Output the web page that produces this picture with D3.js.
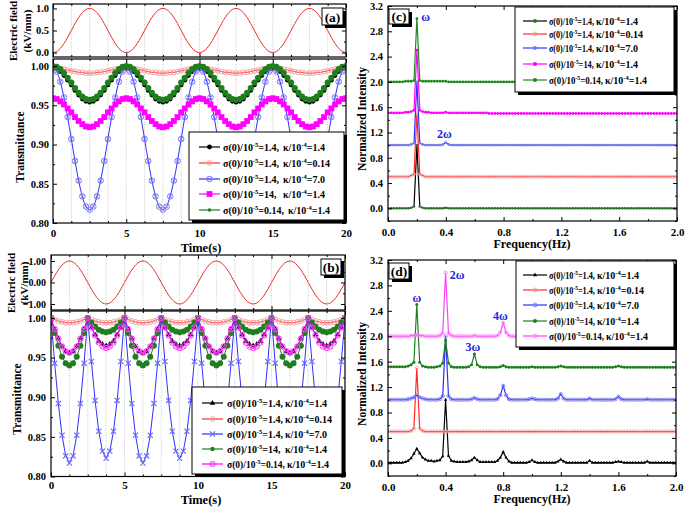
<!DOCTYPE html>
<html><head><meta charset="utf-8">
<script src="https://cdn.jsdelivr.net/npm/d3@7"></script>
<style>
body{margin:0;background:#fff}
svg{display:block}
</style></head><body>
<svg id="c" width="685" height="507"></svg>
<script>
// ---------------- DATA ----------------
const timeS = [
0,0.25,0.5,0.75,1,1.25,1.5,1.75,2,2.25,2.5,2.75,3,3.25,3.5,3.75,4,4.25,4.5,4.75,
5,5.25,5.5,5.75,6,6.25,6.5,6.75,7,7.25,7.5,7.75,8,8.25,8.5,8.75,9,9.25,9.5,9.75,
10,10.25,10.5,10.75,11,11.25,11.5,11.75,12,12.25,12.5,12.75,13,13.25,13.5,13.75,14,14.25,14.5,14.75,
15,15.25,15.5,15.75,16,16.25,16.5,16.75,17,17.25,17.5,17.75,18,18.25,18.5,18.75,19,19.25,19.5,19.75,
20];
const timeMajor = [0,5,10,15,20];
const timeMinor = [1.25,2.5,3.75,6.25,7.5,8.75,11.25,12.5,13.75,16.25,17.5,18.75];

// (a) electric field (kV/mm)
const fieldA = [
0,0.024,0.095,0.206,0.345,0.5,0.655,0.794,0.905,0.976,1,0.976,0.905,0.794,0.655,0.5,0.345,0.206,0.095,0.024,
0,0.024,0.095,0.206,0.345,0.5,0.655,0.794,0.905,0.976,1,0.976,0.905,0.794,0.655,0.5,0.345,0.206,0.095,0.024,
0,0.024,0.095,0.206,0.345,0.5,0.655,0.794,0.905,0.976,1,0.976,0.905,0.794,0.655,0.5,0.345,0.206,0.095,0.024,
0,0.024,0.095,0.206,0.345,0.5,0.655,0.794,0.905,0.976,1,0.976,0.905,0.794,0.655,0.5,0.345,0.206,0.095,0.024,
0];
// (a) transmittance
const transA_s14_k14 = [
0.997,0.996,0.993,0.988,0.982,0.976,0.969,0.963,0.958,0.955,0.954,0.955,0.958,0.963,0.969,0.976,0.982,0.988,0.993,0.996,
0.997,0.996,0.993,0.988,0.982,0.976,0.969,0.963,0.958,0.955,0.954,0.955,0.958,0.963,0.969,0.976,0.982,0.988,0.993,0.996,
0.997,0.996,0.993,0.988,0.982,0.976,0.969,0.963,0.958,0.955,0.954,0.955,0.958,0.963,0.969,0.976,0.982,0.988,0.993,0.996,
0.997,0.996,0.993,0.988,0.982,0.976,0.969,0.963,0.958,0.955,0.954,0.955,0.958,0.963,0.969,0.976,0.982,0.988,0.993,0.996,
0.997];
const transA_s14_k014 = [
0.997,0.997,0.996,0.996,0.995,0.994,0.993,0.992,0.992,0.991,0.991,0.991,0.992,0.992,0.993,0.994,0.995,0.996,0.996,0.997,
0.997,0.997,0.996,0.996,0.995,0.994,0.993,0.992,0.992,0.991,0.991,0.991,0.992,0.992,0.993,0.994,0.995,0.996,0.996,0.997,
0.997,0.997,0.996,0.996,0.995,0.994,0.993,0.992,0.992,0.991,0.991,0.991,0.992,0.992,0.993,0.994,0.995,0.996,0.996,0.997,
0.997,0.997,0.996,0.996,0.995,0.994,0.993,0.992,0.992,0.991,0.991,0.991,0.992,0.992,0.993,0.994,0.995,0.996,0.996,0.997,
0.997];
const transA_s14_k70 = [
0.997,0.993,0.980,0.960,0.935,0.907,0.879,0.854,0.834,0.821,0.817,0.821,0.834,0.854,0.879,0.907,0.935,0.960,0.980,0.993,
0.997,0.993,0.980,0.960,0.935,0.907,0.879,0.854,0.834,0.821,0.817,0.821,0.834,0.854,0.879,0.907,0.935,0.960,0.980,0.993,
0.997,0.993,0.980,0.960,0.935,0.907,0.879,0.854,0.834,0.821,0.817,0.821,0.834,0.854,0.879,0.907,0.935,0.960,0.980,0.993,
0.997,0.993,0.980,0.960,0.935,0.907,0.879,0.854,0.834,0.821,0.817,0.821,0.834,0.854,0.879,0.907,0.935,0.960,0.980,0.993,
0.997];
const transA_s140_k14 = [
0.959,0.958,0.955,0.951,0.946,0.941,0.935,0.930,0.926,0.923,0.922,0.923,0.926,0.930,0.935,0.941,0.946,0.951,0.955,0.958,
0.959,0.958,0.955,0.951,0.946,0.941,0.935,0.930,0.926,0.923,0.922,0.923,0.926,0.930,0.935,0.941,0.946,0.951,0.955,0.958,
0.959,0.958,0.955,0.951,0.946,0.941,0.935,0.930,0.926,0.923,0.922,0.923,0.926,0.930,0.935,0.941,0.946,0.951,0.955,0.958,
0.959,0.958,0.955,0.951,0.946,0.941,0.935,0.930,0.926,0.923,0.922,0.923,0.926,0.930,0.935,0.941,0.946,0.951,0.955,0.958,
0.959];
const transA_s014_k14 = [
1.000,0.999,0.996,0.991,0.985,0.979,0.972,0.966,0.961,0.958,0.957,0.958,0.961,0.966,0.972,0.979,0.985,0.991,0.996,0.999,
1.000,0.999,0.996,0.991,0.985,0.979,0.972,0.966,0.961,0.958,0.957,0.958,0.961,0.966,0.972,0.979,0.985,0.991,0.996,0.999,
1.000,0.999,0.996,0.991,0.985,0.979,0.972,0.966,0.961,0.958,0.957,0.958,0.961,0.966,0.972,0.979,0.985,0.991,0.996,0.999,
1.000,0.999,0.996,0.991,0.985,0.979,0.972,0.966,0.961,0.958,0.957,0.958,0.961,0.966,0.972,0.979,0.985,0.991,0.996,0.999,
1.000];

// (b) electric field (kV/mm)
const fieldB = [
0,0.309,0.588,0.809,0.951,1,0.951,0.809,0.588,0.309,0,-0.309,-0.588,-0.809,-0.951,-1,-0.951,-0.809,-0.588,-0.309,
0,0.309,0.588,0.809,0.951,1,0.951,0.809,0.588,0.309,0,-0.309,-0.588,-0.809,-0.951,-1,-0.951,-0.809,-0.588,-0.309,
0,0.309,0.588,0.809,0.951,1,0.951,0.809,0.588,0.309,0,-0.309,-0.588,-0.809,-0.951,-1,-0.951,-0.809,-0.588,-0.309,
0,0.309,0.588,0.809,0.951,1,0.951,0.809,0.588,0.309,0,-0.309,-0.588,-0.809,-0.951,-1,-0.951,-0.809,-0.588,-0.309,
0];
const transB_s14_k14 = [
0.999,0.986,0.974,0.964,0.958,0.956,0.958,0.964,0.974,0.986,0.999,0.988,0.979,0.971,0.967,0.965,0.967,0.971,0.979,0.988,
0.999,0.986,0.974,0.964,0.958,0.956,0.958,0.964,0.974,0.986,0.999,0.988,0.979,0.971,0.967,0.965,0.967,0.971,0.979,0.988,
0.999,0.986,0.974,0.964,0.958,0.956,0.958,0.964,0.974,0.986,0.999,0.988,0.979,0.971,0.967,0.965,0.967,0.971,0.979,0.988,
0.999,0.986,0.974,0.964,0.958,0.956,0.958,0.964,0.974,0.986,0.999,0.988,0.979,0.971,0.967,0.965,0.967,0.971,0.979,0.988,
0.999];
const transB_s14_k014 = [
1.000,0.998,0.996,0.995,0.994,0.994,0.994,0.995,0.996,0.998,1.000,0.998,0.996,0.995,0.994,0.994,0.994,0.995,0.996,0.998,
1.000,0.998,0.996,0.995,0.994,0.994,0.994,0.995,0.996,0.998,1.000,0.998,0.996,0.995,0.994,0.994,0.994,0.995,0.996,0.998,
1.000,0.998,0.996,0.995,0.994,0.994,0.994,0.995,0.996,0.998,1.000,0.998,0.996,0.995,0.994,0.994,0.994,0.995,0.996,0.998,
1.000,0.998,0.996,0.995,0.994,0.994,0.994,0.995,0.996,0.998,1.000,0.998,0.996,0.995,0.994,0.994,0.994,0.995,0.996,0.998,
1.000];
const transB_s14_k70 = [
1.000,0.943,0.892,0.852,0.826,0.817,0.826,0.852,0.892,0.943,1.000,0.945,0.896,0.857,0.832,0.823,0.832,0.857,0.896,0.945,
1.000,0.943,0.892,0.852,0.826,0.817,0.826,0.852,0.892,0.943,1.000,0.945,0.896,0.857,0.832,0.823,0.832,0.857,0.896,0.945,
1.000,0.943,0.892,0.852,0.826,0.817,0.826,0.852,0.892,0.943,1.000,0.945,0.896,0.857,0.832,0.823,0.832,0.857,0.896,0.945,
1.000,0.943,0.892,0.852,0.826,0.817,0.826,0.852,0.892,0.943,1.000,0.945,0.896,0.857,0.832,0.823,0.832,0.857,0.896,0.945,
1.000];
const transB_s140_k14 = [
1.000,0.981,0.965,0.951,0.943,0.940,0.943,0.951,0.965,0.981,1.000,0.994,0.989,0.985,0.983,0.982,0.983,0.985,0.989,0.994,
1.000,0.981,0.965,0.951,0.943,0.940,0.943,0.951,0.965,0.981,1.000,0.994,0.989,0.985,0.983,0.982,0.983,0.985,0.989,0.994,
1.000,0.981,0.965,0.951,0.943,0.940,0.943,0.951,0.965,0.981,1.000,0.994,0.989,0.985,0.983,0.982,0.983,0.985,0.989,0.994,
1.000,0.981,0.965,0.951,0.943,0.940,0.943,0.951,0.965,0.981,1.000,0.994,0.989,0.985,0.983,0.982,0.983,0.985,0.989,0.994,
1.000];
const transB_s014_k14 = [
1.000,0.986,0.974,0.964,0.958,0.956,0.958,0.964,0.974,0.986,1.000,0.988,0.978,0.969,0.964,0.962,0.964,0.969,0.978,0.988,
1.000,0.986,0.974,0.964,0.958,0.956,0.958,0.964,0.974,0.986,1.000,0.988,0.978,0.969,0.964,0.962,0.964,0.969,0.978,0.988,
1.000,0.986,0.974,0.964,0.958,0.956,0.958,0.964,0.974,0.986,1.000,0.988,0.978,0.969,0.964,0.962,0.964,0.969,0.978,0.988,
1.000,0.986,0.974,0.964,0.958,0.956,0.958,0.964,0.974,0.986,1.000,0.988,0.978,0.969,0.964,0.962,0.964,0.969,0.978,0.988,
1.000];

// spectra: frequency axis (Hz)
const freqHz = [
0,0.02,0.04,0.06,0.08,0.1,0.12,0.14,0.16,0.18,
0.2,0.22,0.24,0.26,0.28,0.3,0.32,0.34,0.36,0.38,
0.4,0.42,0.44,0.46,0.48,0.5,0.52,0.54,0.56,0.58,
0.6,0.62,0.64,0.66,0.68,0.7,0.72,0.74,0.76,0.78,
0.8,0.82,0.84,0.86,0.88,0.9,0.92,0.94,0.96,0.98,
1,1.02,1.04,1.06,1.08,1.1,1.12,1.14,1.16,1.18,
1.2,1.22,1.24,1.26,1.28,1.3,1.32,1.34,1.36,1.38,
1.4,1.42,1.44,1.46,1.48,1.5,1.52,1.54,1.56,1.58,
1.6,1.62,1.64,1.66,1.68,1.7,1.72,1.74,1.76,1.78,
1.8,1.82,1.84,1.86,1.88,1.9,1.92,1.94,1.96,1.98,
2];
const freqMajor = [0,0.4,0.8,1.2,1.6,2.0];
const freqMinor = [0.2,0.6,1.0,1.4,1.8];
const intensityMajor = [0,0.4,0.8,1.2,1.6,2.0,2.4,2.8,3.2];
const intensityMinor = [-0.2,0.2,0.6,1.0,1.4,1.8,2.2,2.6,3.0];
const offsetsC = [0, 0.5, 1.0, 1.5, 2.0];
const offsetsD = [0, 0.5, 1.0, 1.5, 2.0];

// (c) normalized spectra (above each offset)
const specC_s14_k14 = [
0,0,0,0,0,0,0,0,0.01,0.03,
1,0.03,0.01,0,0,0,0,0,0,0,
0.01,0,0,0,0,0,0,0,0,0,
0,0,0,0,0,0,0,0,0,0,
0,0,0,0,0,0,0,0,0,0,
0,0,0,0,0,0,0,0,0,0,
0,0,0,0,0,0,0,0,0,0,
0,0,0,0,0,0,0,0,0,0,
0,0,0,0,0,0,0,0,0,0,
0,0,0,0,0,0,0,0,0,0,
0];
const specC_s14_k014 = [
0,0,0,0,0,0,0,0,0.02,0.04,
1,0.04,0.02,0,0,0,0,0,0,0,
0,0,0,0,0,0,0,0,0,0,
0,0,0,0,0,0,0,0,0,0,
0,0,0,0,0,0,0,0,0,0,
0,0,0,0,0,0,0,0,0,0,
0,0,0,0,0,0,0,0,0,0,
0,0,0,0,0,0,0,0,0,0,
0,0,0,0,0,0,0,0,0,0,
0,0,0,0,0,0,0,0,0,0,
0];
const specC_s14_k70 = [
0,0,0,0,0,0,0,0,0.01,0.03,
1,0.03,0.01,0,0,0,0,0,0,0.01,
0.04,0.01,0,0,0,0,0,0,0,0,
0,0,0,0,0,0,0,0,0,0,
0,0,0,0,0,0,0,0,0,0,
0,0,0,0,0,0,0,0,0,0,
0,0,0,0,0,0,0,0,0,0,
0,0,0,0,0,0,0,0,0,0,
0,0,0,0,0,0,0,0,0,0,
0,0,0,0,0,0,0,0,0,0,
0];
const specC_s140_k14 = [
0.01,0.01,0.01,0.01,0.01,0.01,0.02,0.02,0.03,0.05,
1,0.05,0.03,0.02,0.02,0.01,0.01,0.01,0.01,0.01,
0.02,0.01,0.01,0.01,0.01,0.01,0.01,0.01,0.01,0.01,
0.01,0.01,0.01,0.01,0.01,0,0,0,0,0,
0,0,0,0,0,0,0,0,0,0,
0,0,0,0,0,0,0,0,0,0,
0,0,0,0,0,0,0,0,0,0,
0,0,0,0,0,0,0,0,0,0,
0,0,0,0,0,0,0,0,0,0,
0,0,0,0,0,0,0,0,0,0,
0];
const specC_s014_k14 = [
0,0,0,0,0,0,0.01,0.01,0.01,0.02,
1,0.02,0.01,0.01,0.01,0.01,0.01,0.01,0.01,0.01,
0.01,0,0,0,0,0,0,0,0,0,
0,0,0,0,0,0,0,0,0,0,
0,0,0,0,0,0,0,0,0,0,
0,0,0,0,0,0,0,0,0,0,
0,0,0,0,0,0,0,0,0,0,
0,0,0,0,0,0,0,0,0,0,
0,0,0,0,0,0,0,0,0,0,
0,0,0,0,0,0,0,0,0,0,
0];

// (d) normalized spectra (above each offset)
const specD_s14_k14 = [
0.01,0.01,0.01,0.01,0.01,0.01,0.02,0.04,0.08,0.15,
0.23,0.16,0.09,0.06,0.04,0.04,0.03,0.04,0.05,0.11,
1,0.12,0.04,0.03,0.02,0.02,0.02,0.02,0.03,0.05,
0.09,0.05,0.02,0.02,0.02,0.02,0.02,0.02,0.04,0.09,
0.18,0.09,0.03,0.01,0.01,0.01,0.01,0.01,0.01,0.02,
0.05,0.02,0.01,0.01,0.01,0.01,0.01,0.01,0.01,0.03,
0.06,0.03,0.01,0.01,0.01,0.01,0.01,0.01,0.01,0.01,
0.04,0.01,0.01,0.01,0.01,0.01,0.01,0.01,0.01,0.02,
0.03,0.02,0.01,0.01,0.01,0.01,0.01,0.01,0.01,0.01,
0.03,0.01,0.01,0.01,0.01,0.01,0.01,0.01,0.01,0.01,
0.01];
const specD_s14_k014 = [
0,0,0,0,0,0,0,0,0.01,0.05,
1,0.05,0.01,0,0,0,0,0,0,0,
0,0,0,0,0,0,0,0,0,0,
0,0,0,0,0,0,0,0,0,0,
0,0,0,0,0,0,0,0,0,0,
0,0,0,0,0,0,0,0,0,0,
0,0,0,0,0,0,0,0,0,0,
0,0,0,0,0,0,0,0,0,0,
0,0,0,0,0,0,0,0,0,0,
0,0,0,0,0,0,0,0,0,0,
0];
const specD_s14_k70 = [
0,0,0,0,0,0,0,0.01,0.02,0.04,
0.07,0.04,0.02,0.01,0,0,0,0,0.01,0.06,
1,0.06,0.01,0,0,0,0,0,0,0.01,
0.03,0.01,0,0,0,0,0,0,0.01,0.07,
0.22,0.07,0.01,0,0,0,0,0,0,0.01,
0.02,0.01,0,0,0,0,0,0,0,0.02,
0.09,0.02,0,0,0,0,0,0,0,0,
0.02,0,0,0,0,0,0,0,0,0.01,
0.05,0.01,0,0,0,0,0,0,0,0,
0.01,0,0,0,0,0,0,0,0,0,
0];
const specD_s140_k14 = [
0.02,0.02,0.02,0.02,0.02,0.02,0.02,0.03,0.05,0.09,
1,0.09,0.03,0.02,0.01,0.01,0.01,0.02,0.03,0.08,
0.44,0.08,0.02,0.01,0.01,0.01,0.01,0.01,0.02,0.05,
0.22,0.05,0.02,0.01,0.01,0.01,0.01,0.01,0.01,0.02,
0.04,0.02,0.01,0.01,0.01,0.01,0.01,0.01,0.01,0.01,
0.02,0.01,0.01,0.01,0.01,0.01,0.01,0.01,0.01,0.02,
0.03,0.02,0.01,0.01,0.01,0.01,0.01,0.01,0.01,0.01,
0.01,0.01,0.01,0.01,0.01,0.01,0.01,0.01,0.01,0.02,
0.03,0.02,0.01,0.01,0.01,0.01,0.01,0.01,0.01,0.01,
0.01,0.01,0.01,0.01,0.01,0.01,0.01,0.01,0.01,0.01,
0.01];
const specD_s014_k14 = [
0,0,0,0,0,0,0,0,0.01,0.01,
0.02,0.01,0.01,0,0,0,0,0,0.01,0.05,
1,0.05,0.01,0,0,0,0,0,0,0,
0.01,0,0,0,0,0,0,0,0.01,0.06,
0.21,0.06,0.01,0,0,0,0,0,0,0,
0,0,0,0,0,0,0,0,0,0,
0,0,0,0,0,0,0,0,0,0,
0,0,0,0,0,0,0,0,0,0,
0,0,0,0,0,0,0,0,0,0,
0,0,0,0,0,0,0,0,0,0,
0];

// legend values
const sigmaA = ["1.4","1.4","1.4","14","0.14"];
const kappaA = ["1.4","0.14","7.0","1.4","1.4"];
const sigmaB = ["1.4","1.4","1.4","14","0.14"];
const kappaB = ["1.4","0.14","7.0","1.4","1.4"];
const sigmaC = ["1.4","1.4","1.4","14","0.14"];
const kappaC = ["1.4","0.14","7.0","1.4","1.4"];
const sigmaD = ["1.4","1.4","1.4","14","0.14"];
const kappaD = ["1.4","0.14","7.0","1.4","1.4"];

// ---------------- DRAWING ----------------
const FONT = '"Liberation Serif","Times New Roman",serif';
const svg = d3.select('#c');
svg.append('rect').attr('width',685).attr('height',507).attr('fill','#fff');

function markerPath(type, s){
  const c = r => `M${-r},0A${r},${r} 0 1,0 ${r},0A${r},${r} 0 1,0 ${-r},0Z`;
  switch(type){
    case 'circle': return c(s);
    case 'square': return `M${-s},${-s}H${s}V${s}H${-s}Z`;
    case 'triangle': return `M0,${-s*1.2}L${s*1.05},${s*0.65}L${-s*1.05},${s*0.65}Z`;
    case 'x': return `M${-s},${-s}L${s},${s}M${-s},${s}L${s},${-s}`;
    case 'circlex': { const k=s*0.7; return c(s)+`M${-k},${-k}L${k},${k}M${-k},${k}L${k},${-k}`; }
    case 'star': return d3.symbol(d3.symbolStar, s*s*2.6)();
  }
  return c(s);
}
let clipId = 0;
function clipGroup(x0,x1,y0,y1){
  const id = 'clip'+(clipId++);
  svg.append('clipPath').attr('id',id).append('rect').attr('x',x0).attr('y',y0).attr('width',x1-x0).attr('height',y1-y0);
  return svg.append('g').attr('clip-path',`url(#${id})`);
}
function plotSeries(g, xs, ys, x, y, st, curve, offset){
  const off = offset || 0;
  g.append('path').attr('d', d3.line().x((d,i)=>x(xs[i])).y(d=>y(d+off)).curve(curve)(ys))
    .attr('fill','none').attr('stroke',st.line).attr('stroke-width',st.lw||1);
  g.append('g').selectAll('path').data(ys).join('path')
    .attr('transform',(d,i)=>`translate(${x(xs[i])},${y(d+off)})`)
    .attr('d', markerPath(st.m, st.ms))
    .attr('fill', st.fill).attr('stroke', st.stroke||'none').attr('stroke-width', st.msw||1);
}
function addAxis(axisFn, scale, vals, size, pad, fmt, tx, ty, fs){
  const a = axisFn(scale).tickValues(vals).tickSize(size).tickPadding(pad).tickFormat(fmt || (()=>''));
  const s = svg.append('g').attr('transform',`translate(${tx},${ty})`).call(a);
  s.select('.domain').remove();
  s.selectAll('line').attr('stroke','#000').attr('stroke-width',1);
  s.selectAll('text').attr('font-family',FONT).attr('font-weight','bold').attr('font-size',fs||11).attr('fill','#000');
  return s;
}
function boxAxes(x, y, o){
  const [x0,x1] = x.range(); const [yb,yt] = y.range();
  addAxis(d3.axisBottom, x, o.xMajor, -4, o.xPad||6, o.xFmt||null, 0, yb, 11);
  addAxis(d3.axisBottom, x, o.xMinor, -2, 0, null, 0, yb);
  addAxis(d3.axisTop, x, o.xMajor, -4, 0, null, 0, yt);
  addAxis(d3.axisTop, x, o.xMinor, -2, 0, null, 0, yt);
  addAxis(d3.axisLeft, y, o.yMajor, -4, o.yPad||4, o.yFmt, x0, 0, o.yFs||10.5);
  addAxis(d3.axisLeft, y, o.yMinor, -2, 0, null, x0, 0);
  addAxis(d3.axisRight, y, o.yMajor, -4, 0, null, x1, 0);
  addAxis(d3.axisRight, y, o.yMinor, -2, 0, null, x1, 0);
  svg.append('rect').attr('x',x0).attr('y',yt).attr('width',x1-x0).attr('height',yb-yt)
    .attr('fill','none').attr('stroke','#000').attr('stroke-width',1.2);
}
function txt(x, y, s, fs, opts){
  opts = opts || {};
  const t = svg.append('text').attr('x',x).attr('y',y).text(s)
    .attr('font-family',FONT).attr('font-weight','bold').attr('font-size',fs)
    .attr('fill',opts.fill||'#000').attr('text-anchor',opts.anchor||'middle');
  if (opts.rot) t.attr('transform',`rotate(-90,${x},${y})`);
  return t;
}
function panelLabel(x, y, w, h, s){
  svg.append('rect').attr('x',x+3).attr('y',y+3).attr('width',w).attr('height',h).attr('fill','#000');
  svg.append('rect').attr('x',x).attr('y',y).attr('width',w).attr('height',h).attr('fill','#fff').attr('stroke','#000').attr('stroke-width',1);
  txt(x+w/2, y+h-3.5, s, 13.5);
}
function supText(x, y, base, sup, tail, maxW){
  const g = svg.append('g').attr('transform',`translate(${x},${y})`);
  const t = g.append('text').attr('x',0).attr('y',0).attr('font-family',FONT).attr('font-weight','bold').attr('font-size',10).attr('fill','#000');
  t.append('tspan').text(base);
  t.append('tspan').attr('dy',-4).attr('font-size',6.5).text(sup);
  t.append('tspan').attr('dy',4).text(tail);
  if (maxW){
    const w = t.node().getComputedTextLength();
    if (w > maxW) g.attr('transform',`translate(${x},${y}) scale(${maxW/w},1)`);
  }
}
function legend(box, lx0, lx1, tx, kxs, ys, styles, sig, kap){
  svg.append('rect').attr('x',box[0]+3).attr('y',box[1]+3).attr('width',box[2]-box[0]).attr('height',box[3]-box[1]).attr('fill','#000');
  svg.append('rect').attr('x',box[0]).attr('y',box[1]).attr('width',box[2]-box[0]).attr('height',box[3]-box[1])
    .attr('fill','#fff').attr('stroke','#000').attr('stroke-width',1);
  ys.forEach((yy,i)=>{
    const st = styles[i];
    svg.append('line').attr('x1',lx0).attr('x2',lx1).attr('y1',yy).attr('y2',yy).attr('stroke',st.line).attr('stroke-width',1.2);
    svg.append('path').attr('transform',`translate(${(lx0+lx1)/2},${yy})`).attr('d',markerPath(st.m, st.lms||st.ms))
      .attr('fill',st.fill).attr('stroke',st.stroke||'none').attr('stroke-width',st.msw||1);
    supText(tx, yy+3.5, 'σ(0)/10', '-5', '='+sig[i]+',', kxs[i]-tx-2);
    supText(kxs[i], yy+3.5, 'κ/10', '-4', '='+kap[i], box[2]-kxs[i]-3);
  });
}

// ---------- Panel (a) ----------
const xA = d3.scaleLinear().domain([0,20]).range([53,346]);
const yAE = d3.scaleLinear().domain([-0.1,1.1]).range([57,4]);
const yAT = d3.scaleLinear().domain([0.8,1.009]).range([223,59]);
const gridT = timeMinor.concat([5,10,15]);
svg.append('g').selectAll('line').data(gridT).join('line')
  .attr('x1',d=>xA(d)).attr('x2',d=>xA(d)).attr('y1',4).attr('y2',223)
  .attr('stroke','#b8b8b8').attr('stroke-width',0.8).attr('stroke-dasharray','1,1.5');
const gAE = clipGroup(53,346,4,57);
gAE.append('path').attr('d', d3.line().x((d,i)=>xA(timeS[i])).y(d=>yAE(d)).curve(d3.curveMonotoneX)(fieldA))
  .attr('fill','none').attr('stroke','#e8302a').attr('stroke-width',1);
const styleA = [
  {line:'#000', m:'circle', ms:2.4, fill:'#000'},
  {line:'#ff2a2a', m:'circle', ms:2.4, fill:'none', stroke:'#f49a9a', msw:0.9},
  {line:'#2f2fff', m:'circlex', ms:2.8, fill:'none', stroke:'#7373f2', msw:0.9},
  {line:'#ff00ff', m:'square', ms:2.9, fill:'#ff00ff'},
  {line:'#1f7f1f', m:'circle', ms:3.1, fill:'#1f7f1f', lms:1.8}
];
const gAT = clipGroup(53,346,59,223);
[transA_s14_k14, transA_s14_k014, transA_s14_k70, transA_s140_k14, transA_s014_k14].forEach((s,i)=>
  plotSeries(gAT, timeS, s, xA, yAT, styleA[i], d3.curveMonotoneX));
boxAxes(xA, yAE, {xMajor:timeMajor, xMinor:timeMinor, yMajor:[0,0.5,1.0], yMinor:[0.25,0.75], yFmt:d3.format('.1f'), xFmt:()=>''});
boxAxes(xA, yAT, {xMajor:timeMajor, xMinor:timeMinor, yMajor:[0.8,0.85,0.9,0.95,1.0], yMinor:[0.825,0.875,0.925,0.975], yFmt:d3.format('.2f'), xFmt:d3.format('d'), xPad:6});
txt(17, 31, 'Electric field', 11, {rot:true});
txt(31, 31, '(kV/mm)', 11, {rot:true});
txt(24, 147, 'Transmittance', 11.5, {rot:true});
txt(201, 252, 'Time(s)', 12.5);
legend([189,132,344,220], 199, 220, 223, [283,283,283,283,288], [147,163,179,194,210], styleA, sigmaA, kappaA);
panelLabel(322, 8, 21, 17, '(a)');

// ---------- Panel (b) ----------
const xB = d3.scaleLinear().domain([0,20]).range([51,345]);
const yBE = d3.scaleLinear().domain([-1.28,1.28]).range([310,255]);
const yBT = d3.scaleLinear().domain([0.8,1.0088]).range([476.5,311]);
svg.append('g').selectAll('line').data(gridT).join('line')
  .attr('x1',d=>xB(d)).attr('x2',d=>xB(d)).attr('y1',255).attr('y2',476.5)
  .attr('stroke','#b8b8b8').attr('stroke-width',0.8).attr('stroke-dasharray','1,1.5');
const gBE = clipGroup(51,345,255,310);
gBE.append('path').attr('d', d3.line().x((d,i)=>xB(timeS[i])).y(d=>yBE(d)).curve(d3.curveMonotoneX)(fieldB))
  .attr('fill','none').attr('stroke','#e8302a').attr('stroke-width',1);
const styleB = [
  {line:'#000', m:'triangle', ms:2.6, fill:'#000'},
  {line:'#ff2a2a', m:'circle', ms:2.4, fill:'none', stroke:'#f49a9a', msw:0.9},
  {line:'#2f2fff', m:'x', ms:2.6, fill:'none', stroke:'#6a6af2', msw:1.1},
  {line:'#1f7f1f', m:'circle', ms:3.0, fill:'#1f7f1f', lms:2.2},
  {line:'#ff00ff', m:'circlex', ms:2.7, fill:'none', stroke:'#ff3cff', msw:1}
];
const gBT = clipGroup(51,345,311,476.5);
[transB_s14_k14, transB_s14_k014, transB_s14_k70, transB_s140_k14, transB_s014_k14].forEach((s,i)=>
  plotSeries(gBT, timeS, s, xB, yBT, styleB[i], d3.curveLinear));
boxAxes(xB, yBE, {xMajor:timeMajor, xMinor:timeMinor, yMajor:[-1,0,1], yMinor:[-0.5,0.5], yFmt:d3.format('.2f'), xFmt:()=>'', yPad:5, yFs:10});
boxAxes(xB, yBT, {xMajor:timeMajor, xMinor:timeMinor, yMajor:[0.8,0.85,0.9,0.95,1.0], yMinor:[0.825,0.875,0.925,0.975], yFmt:d3.format('.2f'), xFmt:d3.format('d'), xPad:4.5, yPad:5});
txt(15, 283, 'Electric field', 11, {rot:true});
txt(28, 283, '(kV/mm)', 11, {rot:true});
txt(21, 399, 'Transmittance', 11.5, {rot:true});
txt(201, 503.5, 'Time(s)', 12.5);
legend([192,387,342,474], 202, 223, 227, [285,285,285,285,287], [403,419,434,449,464], styleB, sigmaB, kappaB);
panelLabel(321, 259, 20, 16, '(b)');

// ---------- Panel (c) ----------
const xC = d3.scaleLinear().domain([0,2]).range([388,677]);
const yC = d3.scaleLinear().domain([-0.2,3.2]).range([221,6]);
const styleC = [
  {line:'#000', m:'circle', ms:1.3, fill:'#2d7a2d', lw:1.2},
  {line:'#ff2a2a', m:'circle', ms:1.5, fill:'none', stroke:'#f5a0a0', msw:0.8, lw:1.2},
  {line:'#2f2fff', m:'circle', ms:1.4, fill:'#7b7bf5', lw:1.2},
  {line:'#ff00ff', m:'circle', ms:1.4, fill:'#ff00ff', lw:1.2},
  {line:'#1f8a1f', m:'circle', ms:1.4, fill:'#1f8a1f', lw:1.2}
];
const gC = clipGroup(388,677,6,221);
[specC_s14_k14, specC_s14_k014, specC_s14_k70, specC_s140_k14, specC_s014_k14].forEach((s,i)=>
  plotSeries(gC, freqHz, s, xC, yC, styleC[i], d3.curveLinear, offsetsC[i]));
boxAxes(xC, yC, {xMajor:freqMajor, xMinor:freqMinor, yMajor:intensityMajor, yMinor:intensityMinor, yFmt:d3.format('.1f'), xFmt:d3.format('.1f'), xPad:7, yPad:5});
txt(366, 119, 'Normalized Intensity', 11.5, {rot:true});
txt(532, 248, 'Frequency(Hz)', 12);
txt(xC(0.26), yC(3.03)+4, 'ω', 12, {fill:'#2424e0'});
txt(xC(0.39), yC(1.18)+4, '2ω', 12, {fill:'#2424e0'});
legend([515,7,674,92], 523, 547, 549, [596,596,596,596,605], [21,34,48,64,80],
  styleC.map(s=>Object.assign({}, s, {lms:2})), sigmaC, kappaC);
panelLabel(389, 9, 20, 15, '(c)');

// ---------- Panel (d) ----------
const xD = d3.scaleLinear().domain([0,2]).range([388,676]);
const yD = d3.scaleLinear().domain([-0.2,3.2]).range([476,260]);
const styleD = [
  {line:'#000', m:'triangle', ms:1.6, fill:'#000', lw:1.2},
  {line:'#ff2a2a', m:'circle', ms:1.6, fill:'none', stroke:'#f5a0a0', msw:0.8, lw:1.2},
  {line:'#2f2fff', m:'circle', ms:1.6, fill:'none', stroke:'#7b7bf5', msw:0.9, lw:1.2},
  {line:'#1f7f1f', m:'circle', ms:1.5, fill:'#1f7f1f', lw:1.2},
  {line:'#ff40ff', m:'circle', ms:1.6, fill:'none', stroke:'#ff80ff', msw:0.9, lw:1.2}
];
const gD = clipGroup(388,676,260,476);
[specD_s14_k14, specD_s14_k014, specD_s14_k70, specD_s140_k14, specD_s014_k14].forEach((s,i)=>
  plotSeries(gD, freqHz, s, xD, yD, styleD[i], d3.curveLinear, offsetsD[i]));
boxAxes(xD, yD, {xMajor:freqMajor, xMinor:freqMinor, yMajor:intensityMajor, yMinor:intensityMinor, yFmt:d3.format('.1f'), xFmt:d3.format('.1f'), xPad:7, yPad:5});
txt(366, 374, 'Normalized Intensity', 11.5, {rot:true});
txt(532, 503, 'Frequency(Hz)', 12);
txt(xD(0.2), yD(2.6)+4, 'ω', 12, {fill:'#2424e0'});
txt(xD(0.48), yD(2.96)+4, '2ω', 12, {fill:'#2424e0'});
txt(xD(0.59), yD(1.83)+4, '3ω', 12, {fill:'#2424e0'});
txt(xD(0.78), yD(2.32)+4, '4ω', 12, {fill:'#2424e0'});
legend([516,261,674,347], 523, 547, 549, [597,597,597,597,606], [275,290,305,321,336],
  styleD.map(s=>Object.assign({}, s, {lms:2})), sigmaD, kappaD);
panelLabel(389, 263, 20, 16, '(d)');
</script>
</body></html>
